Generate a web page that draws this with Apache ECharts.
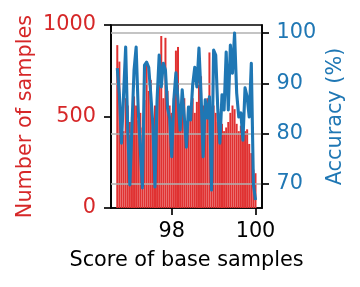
<!DOCTYPE html>
<html><head><meta charset="utf-8">
<script src="https://cdn.jsdelivr.net/npm/echarts@6/dist/echarts.min.js"></script>
<style>html,body{margin:0;padding:0;background:#fff}#c{width:360px;height:287px}</style>
</head><body><div id="c"></div>
<script>
const scores = [96.70,96.75,96.80,96.85,96.90,96.95,97.00,97.05,97.10,97.15,97.20,97.25,97.30,97.35,97.40,97.45,97.50,97.55,97.60,97.65,97.70,97.75,97.80,97.85,97.90,97.95,98.00,98.05,98.10,98.15,98.20,98.25,98.30,98.35,98.40,98.45,98.50,98.55,98.60,98.65,98.70,98.75,98.80,98.85,98.90,98.95,99.00,99.05,99.10,99.15,99.20,99.25,99.30,99.35,99.40,99.45,99.50,99.55,99.60,99.65,99.70,99.75,99.80,99.85,99.90,99.95,100.00];
const sampleCounts = [890,800,350,420,600,560,470,500,610,560,480,520,440,590,800,640,700,480,560,600,680,940,600,930,640,560,520,600,860,880,560,620,600,470,480,560,600,520,580,740,720,560,540,600,850,480,560,520,470,430,460,420,440,470,520,560,540,460,420,450,400,420,430,350,300,210,190];
const accuracy = [93.0,87.7,78.1,87.7,97.2,80.7,69.8,81.3,92.6,97.2,84.7,76.7,69.2,93.6,94.2,93.2,87.7,81.7,69.4,86.7,95.6,89.3,94.0,92.6,85.1,83.1,75.4,86.7,92.1,86.7,80.7,88.7,83.3,77.3,85.3,82.7,89.7,93.2,89.3,97.0,87.7,75.4,86.7,83.1,87.3,68.8,96.6,95.6,84.7,78.1,87.7,84.7,96.2,84.7,97.6,92.0,100.0,88.1,83.3,84.1,78.7,89.1,87.3,83.3,94.0,69.8,66.8];
const xTicks = [98, 100];
const leftTicks = [0, 500, 1000];
const rightTicks = [70, 80, 90, 100];

const RED = '#d62728', BLUE = '#1f77b4', FONT = 'DejaVu Sans', FS = 20.8, LW = 1.67;
const plain = v => String(v);
const chart = echarts.init(document.getElementById('c'), null, {renderer: 'canvas'});
chart.setOption({
  animation: false,
  textStyle: {fontFamily: FONT},
  grid: {left: 111, right: 98, top: 25, bottom: 79, show: true, borderColor: '#000', borderWidth: LW, backgroundColor: 'transparent'},
  xAxis: {
    type: 'value', min: 96.55, max: 100.155,
    axisLine: {show: true, lineStyle: {color: '#000', width: LW}},
    axisTick: {show: true, length: 7, customValues: xTicks, lineStyle: {color: '#000', width: LW}},
    axisLabel: {customValues: xTicks, formatter: plain, fontSize: FS, color: '#000', margin: 13, fontFamily: FONT},
    splitLine: {show: false},
    name: 'Score of base samples', nameLocation: 'middle', nameGap: 42,
    nameTextStyle: {fontSize: FS, color: '#000', fontFamily: FONT}
  },
  yAxis: [{
    type: 'value', position: 'left', min: 0, max: 1000,
    axisLine: {show: true, lineStyle: {color: '#000', width: LW}},
    axisTick: {show: true, length: 7, customValues: leftTicks, lineStyle: {color: '#000', width: LW}},
    axisLabel: {customValues: leftTicks, formatter: plain, fontSize: FS, color: RED, margin: 15, fontFamily: FONT},
    splitLine: {show: false},
    name: 'Number of samples', nameLocation: 'middle', nameGap: 75,
    nameTextStyle: {fontSize: FS, color: RED, fontFamily: FONT}
  }, {
    type: 'value', position: 'right', min: 65.2, max: 101.6, z: 3,
    axisLine: {show: true, lineStyle: {color: '#000', width: LW}},
    axisTick: {show: true, length: 7, customValues: rightTicks, lineStyle: {color: '#000', width: LW}},
    axisLabel: {customValues: rightTicks, formatter: plain, fontSize: FS, color: BLUE, margin: 14.5, fontFamily: FONT},
    splitLine: {show: true, lineStyle: {color: '#b0b0b0', width: LW}},
    name: 'Accuracy (%)', nameLocation: 'middle', nameGap: 63,
    nameTextStyle: {fontSize: FS, color: BLUE, fontFamily: FONT}
  }],
  series: [{
    type: 'bar', xAxisIndex: 0, yAxisIndex: 0, z: 2,
    barWidth: 2,
    itemStyle: {color: '#e03131'},
    data: scores.map((s, i) => [s, sampleCounts[i]])
  }, {
    type: 'line', xAxisIndex: 0, yAxisIndex: 1, z: 5,
    symbol: 'none',
    lineStyle: {color: BLUE, width: 3.1, join: 'round'},
    data: scores.map((s, i) => [s, accuracy[i]])
  }]
});
</script></body></html>
